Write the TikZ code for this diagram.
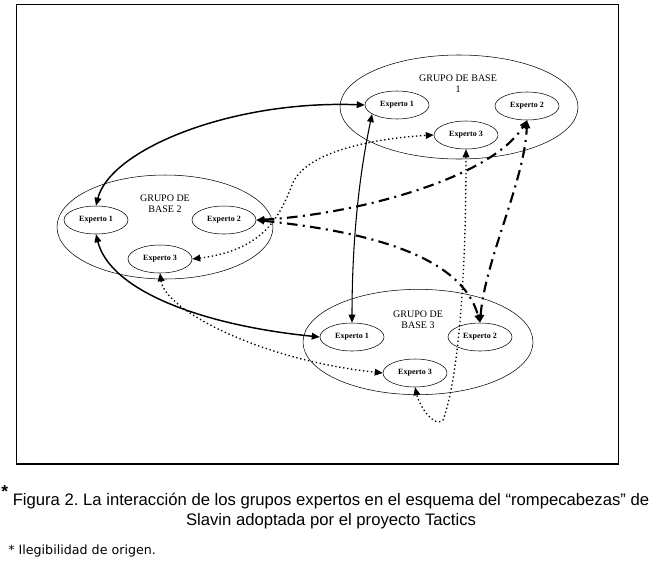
\documentclass[tikz,border=0pt]{standalone}
\usepackage{fontspec}
\setmainfont{Liberation Serif}
\newfontfamily\capfont{Liberation Sans}
\newfontfamily\notefont{DejaVu Sans}
\usetikzlibrary{shapes.geometric,arrows.meta}
\frenchspacing
\begin{document}
\begin{tikzpicture}[x=0.75pt,y=-0.75pt,
  grupo/.style={draw, ellipse, line width=0.4pt, inner sep=0pt},
  experto/.style={draw, ellipse, line width=0.4pt, inner sep=0pt,
     minimum width=48pt, minimum height=21pt, font=\fontsize{6}{7}\selectfont\bfseries},
  titulo/.style={align=center, font=\fontsize{7.5}{8.5}\selectfont, inner sep=0pt},
  tips/.style={{Triangle[length=6pt,width=5pt]}-{Triangle[length=6pt,width=5pt]}},
  solida/.style={tips, line width=1.1pt},
  punteada/.style={tips, line width=1pt, dotted},
  rayapunto/.style={tips, line width=1.6pt, dash pattern=on 8pt off 4pt on 1.5pt off 4pt}
]
\useasboundingbox (0,0) rectangle (663,568);
\node[draw, line width=1.1pt, minimum width=451.5pt, minimum height=344.6pt, inner sep=0pt] (marco) at (317.5,234.25) {};

% Grupo 1
\node[grupo, minimum width=178.5pt, minimum height=78pt] (g1) at (459,107) {};
\node[titulo] (t1) at (458,84) {GRUPO DE BASE\\1};
\node[experto] (g1e1) at (397,105) {Experto 1};
\node[experto] (g1e2) at (527,106) {Experto 2};
\node[experto] (g1e3) at (466,135) {Experto 3};

% Grupo 2
\node[grupo, minimum width=162pt, minimum height=78pt] (g2) at (165,227) {};
\node[titulo] (t2) at (165,204) {GRUPO DE\\BASE 2};
\node[experto] (g2e1) at (96,220) {Experto 1};
\node[experto] (g2e2) at (224,220) {Experto 2};
\node[experto] (g2e3) at (160,259) {Experto 3};

% Grupo 3
\node[grupo, minimum width=172.5pt, minimum height=79pt] (g3) at (418,342) {};
\node[titulo] (t3) at (418,320) {GRUPO DE\\BASE 3};
\node[experto] (g3e1) at (352,337) {Experto 1};
\node[experto] (g3e2) at (480,337) {Experto 2};
\node[experto] (g3e3) at (415,373) {Experto 3};

% Conectores solidos
\draw[solida] (g2e1.north) .. controls (110,150) and (230,100) .. (g1e1.west);
\draw[solida, line width=0.8pt] (g1e1.200) .. controls (356,190) and (352,260) .. (g3e1.north);
\draw[solida] (g2e1.south) .. controls (110,290) and (200,325) .. (g3e1.west);

% Conectores punteados
\draw[punteada] (g2e3.east) .. controls (265,250) and (280,215) .. (292,185)
   .. controls (305,150) and (380,138) .. (g1e3.west);
\draw[punteada] (g2e3.south) .. controls (165,310) and (260,360) .. (g3e3.west);
\draw[punteada] (g1e3.south) .. controls (466,280) and (458,380) .. (443,420)
   .. controls (435,428) and (420,408) .. (g3e3.south);

% Conectores raya-punto
\draw[rayapunto] (g2e2.east) .. controls (350,215) and (490,180) .. (g1e2.south);
\draw[rayapunto] (g2e2.east) .. controls (350,230) and (460,250) .. (g3e2.north);
\draw[rayapunto] (g3e2.north) .. controls (485,260) and (525,180) .. (g1e2.south);

% Pie de figura
\node[anchor=base west, inner sep=0pt, font=\capfont\bfseries\fontsize{13}{14}\selectfont] (ast) at (1,497) {*};
\node[align=center, inner sep=0pt, font=\capfont\fontsize{12.5}{15}\selectfont] (cap) at (331,511)
  {Figura 2. La interacción de los grupos expertos en el esquema del “rompecabezas” de\\Slavin adoptada por el proyecto Tactics};
\node[anchor=west, inner sep=0pt, font=\notefont\fontsize{9.5}{11}\selectfont] (nota) at (8,551) {* Ilegibilidad de origen.};
\end{tikzpicture}
\end{document}
